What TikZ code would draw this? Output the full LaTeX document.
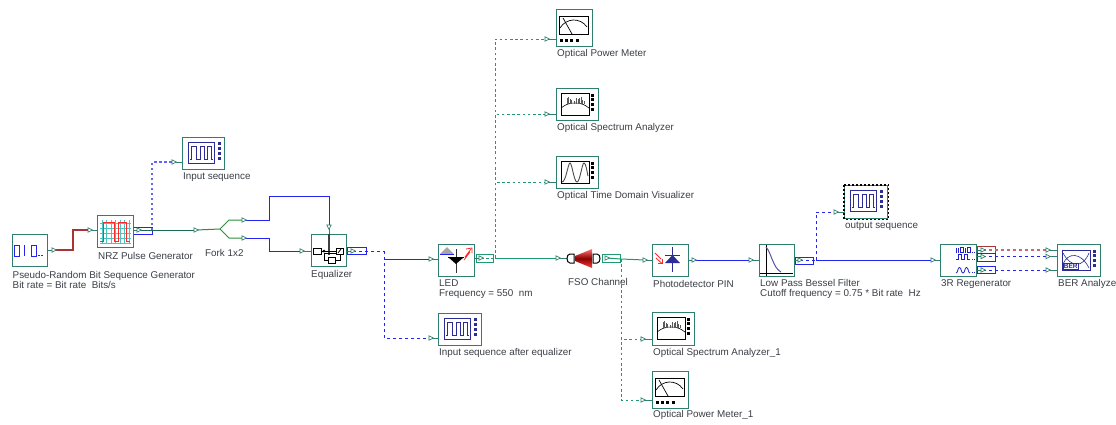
\documentclass[tikz,border=0pt]{standalone}
\usepackage{fontspec}
\setmainfont{Liberation Sans}
\usetikzlibrary{calc}
\definecolor{blockteal}{HTML}{2F7F6F}
\definecolor{wiregreen}{HTML}{1F9A70}
\definecolor{darkgreen}{HTML}{1B6B52}
\definecolor{forkgreen}{HTML}{2C8F3C}
\definecolor{wireblue}{HTML}{2424F0}
\definecolor{paleblue}{HTML}{6464F5}
\definecolor{wirered}{HTML}{A83434}
\definecolor{palered}{HTML}{C96A6A}
\definecolor{scopeblue}{HTML}{2C2C96}
\definecolor{labelgrey}{HTML}{3A3F46}
\tikzset{
  blockbox/.style={draw=blockteal,line width=1.4pt,fill=white,anchor=north west,inner sep=0pt},
  lbl/.style={anchor=west,inner sep=0pt,align=left,text=labelgrey,font=\fontsize{9.85}{10}\selectfont},
  optwire/.style={draw=wiregreen,line width=1pt},
  optdash/.style={draw=wiregreen,line width=1pt,dash pattern=on 2.6pt off 2.6pt},
  elwire/.style={draw=wireblue,line width=1pt},
  eldash/.style={draw=wireblue,line width=1pt,dash pattern=on 3pt off 3pt},
  stub/.style={draw=blockteal,line width=1pt},
  outbox/.style={draw=wireblue,line width=.9pt,fill=white},
  porttri/.pic={\draw[blockteal,fill=white,line width=.7pt] (-2,-2.2) -- (2.4,0) -- (-2,2.2) -- cycle;},
  dotsv/.pic={\foreach \q in {0,1,2,3} \fill[scopeblue] (-1.5,{\q*5-1.5}) rectangle (1.5,{\q*5+1.5});},
  blackdotsv/.pic={\foreach \q in {0,1,2,3} \fill[black] (-1.5,{\q*4.7-1.5}) rectangle (1.5,{\q*4.7+1.5});},
  scopeicon/.pic={
    \draw[scopeblue,line width=.9pt] (6,5) rectangle (32,26);
    \draw[scopeblue,line width=.8pt] (8,22) -- (9.5,22) -- (9.5,9) -- (14,9) -- (14,22) -- (18,22) -- (18,9) -- (22,9) -- (22,22) -- (25,22) -- (25,9) -- (29.5,9) -- (29.5,22) -- (31,22);
    \pic at (37,6.5) {dotsv};
  },
  metericon/.pic={
    \draw[black,line width=.9pt,fill=white] (3,7) rectangle (32,25);
    \draw[black,line width=.7pt] (4,19) .. controls (10,9) and (24,8) .. (31,18);
    \draw[black,line width=.7pt] (7,9) -- (16,25);
    \foreach \q in {5,10,15,21} \fill[black] (\q-1.5,29.5) rectangle (\q+1.5,32.5);
  },
  specicon/.pic={
    \draw[black,line width=.9pt] (5,5) rectangle (33,27);
    \draw[black,line width=.6pt] (5,20) .. controls (10,16) and (14,15) .. (19,15) .. controls (24,15) and (28,16) .. (33,20);
    \foreach \q/\h in {11/10,12.5/9,14/11,15.5/12,18/13,20/10,22/11,23.5/10,25/9,26.5/12,28/13}
      \draw[gray!70!black,line width=.8pt] (\q,\h) -- (\q,15.5);
    \pic at (36,7) {blackdotsv};
  },
  timeicon/.pic={
    \draw[black,line width=.9pt] (5,5) rectangle (33,27);
    \draw[black!70,line width=.9pt] (6,26) .. controls (10,26) and (12,7) .. (14,7) .. controls (16,7) and (18,26) .. (21,26) .. controls (24,26) and (26,7) .. (28,7) .. controls (30,7) and (31,16) .. (32,20);
    \pic at (36,7) {blackdotsv};
  }
}
\begin{document}
\begin{tikzpicture}[x=1pt,y=-1pt]
\useasboundingbox[fill=white] (0,0) rectangle (1116,424);

% ports and corners
\coordinate (prbsO) at (54,250);   \coordinate (nrzI) at (90,230);
\coordinate (nrzO) at (139,230);   \coordinate (nrzT) at (152,230);
\coordinate (scopeI) at (174,162); \coordinate (forkI) at (196,230);
\coordinate (forkC) at (220,229);
\coordinate (forkA) at (244,220);  \coordinate (forkB) at (244,238);
\coordinate (eqA) at (329,227);    \coordinate (eqB) at (302,251);
\coordinate (eqO) at (353,251);    \coordinate (eqT) at (384,251);
\coordinate (ledI) at (431,259);   \coordinate (eqscI) at (431,338);
\coordinate (ledO) at (481,258);   \coordinate (ledT) at (495,258);
\coordinate (fsoI) at (558,258);   \coordinate (fsoO) at (607,258);
\coordinate (fsoT) at (621,259);
\coordinate (opmI) at (547,39);    \coordinate (osaI) at (547,114);
\coordinate (otdI) at (547,182);
\coordinate (pinI) at (645,260);   \coordinate (pinO) at (694,260);
\coordinate (osbI) at (643,339);   \coordinate (opbI) at (643,400);
\coordinate (lpfI) at (751,260);   \coordinate (lpfO) at (800,260);
\coordinate (lpfT) at (816,260);   \coordinate (outI) at (836,212);
\coordinate (regI) at (933,260);
\coordinate (regA) at (983,250);   \coordinate (regB) at (983,256.5);
\coordinate (regC) at (983,270);
\coordinate (berA) at (1048,250);  \coordinate (berB) at (1048,256.5);
\coordinate (berC) at (1048,270);
\coordinate (jogA) at (73,250);    \coordinate (elA) at (269,220);
\coordinate (elB) at (269,238);    \coordinate (elC) at (269,196);

% output port boxes
\draw[outbox] (133,227) rectangle (152,234);
\draw[outbox] (347,247) rectangle (366,254);
\draw[draw=wiregreen,line width=.9pt,fill=white] (476,254) rectangle (493,262);
\draw[draw=wiregreen,line width=.9pt,fill=white] (602,254) rectangle (620,262);
\draw[outbox] (795,257) rectangle (813,264);
\draw[draw=wirered,line width=.9pt,fill=white] (977,246) rectangle (995,253);
\draw[outbox] (977,253) rectangle (995,261);
\draw[outbox] (977,266) rectangle (995,273);

% blocks
\node[blockbox,minimum width=35,minimum height=32] (prbs) at (12,234) {};
\node[blockbox,minimum width=36,minimum height=32] (nrz) at (97,215) {};
\node[blockbox,minimum width=42,minimum height=32] (inseq) at (182,137) {};
\node[blockbox,minimum width=35,minimum height=32] (eq) at (311,234) {};
\node[blockbox,minimum width=36,minimum height=32] (led) at (438,244) {};
\node[blockbox,minimum width=43,minimum height=32] (eqsc) at (438,313) {};
\node[blockbox,minimum width=36,minimum height=37] (opm) at (556,9) {};
\node[blockbox,minimum width=42,minimum height=32] (osa) at (556,88) {};
\node[blockbox,minimum width=42,minimum height=32] (otd) at (556,156) {};
\node[blockbox,minimum width=36,minimum height=32] (pin) at (652,244) {};
\node[blockbox,minimum width=35,minimum height=32] (lpf) at (759,244) {};
\node[blockbox,minimum width=42,minimum height=33] (osb) at (652,312) {};
\node[blockbox,minimum width=36,minimum height=37] (opb) at (652,371) {};
\node[blockbox,minimum width=43,minimum height=33] (outsc) at (844,185) {};
\node[blockbox,minimum width=36,minimum height=32] (reg) at (940,244) {};
\node[blockbox,minimum width=43,minimum height=32] (ber) at (1057,244) {};
\draw[black,line width=1.3pt,dash pattern=on 2pt off 2pt] (outsc.north west) rectangle (outsc.south east);

% connectors
\draw[stub] (prbs.east |- prbsO) -- (prbsO);
\draw[draw=wirered,line width=1.3pt] (prbsO) -- (jogA) |- (nrzI);
\draw[stub] (nrzI) -- (nrz.west |- nrzI);
\draw[stub] (nrz.east |- nrzO) -- (nrzO);
\draw[draw=paleblue,line width=1.2pt,dash pattern=on 2.5pt off 2.5pt] (nrzT) |- (scopeI);
\draw[stub] (scopeI) -- (inseq.west |- scopeI);
\draw[draw=darkgreen,line width=1pt] (nrzO) -- (forkI);
\draw[draw=forkgreen,line width=1pt] (forkI) -- (forkC) -- (229,220) -- (forkA);
\draw[draw=forkgreen,line width=1pt] (forkC) -- (229,238) -- (forkB);
\draw[elwire] (forkA) -- (elA) -- (elC) -| (eqA);
\draw[elwire] (forkB) -- (elB) |- (eqB);
\draw[stub] (eqA) -- (eq.north -| eqA);
\draw[stub] (eqB) -- (eq.west |- eqB);
\draw[stub] (eq.east |- eqO) -- (eqO);
\draw[eldash] (eqO) -- (eqT);
\draw[eldash] (eqT) |- (eqscI);
\draw[elwire] (eqT |- ledI) -- (ledI);
\draw[stub] (ledI) -- (led.west |- ledI);
\draw[stub] (eqscI) -- (eqsc.west |- eqscI);
\draw[stub] (led.east |- ledO) -- (ledO);
\draw[optdash] (ledO) -- (ledT);
\draw[optwire] (ledT) -- (fsoI);
\draw[optdash] (ledT) |- (opmI);
\draw[optdash] (ledT) |- (osaI);
\draw[optdash] (ledT) |- (otdI);
\draw[stub] (opmI) -- (opm.west |- opmI);
\draw[stub] (osaI) -- (osa.west |- osaI);
\draw[stub] (otdI) -- (otd.west |- otdI);
\draw[stub] (fsoI) -- (567,258);
\draw[optwire] (fsoO) -- (fsoT) -- (pinI);
\draw[optdash] (fsoT) |- (osbI);
\draw[optdash] (fsoT) |- (opbI);
\draw[stub] (osbI) -- (osb.west |- osbI);
\draw[stub] (opbI) -- (opb.west |- opbI);
\draw[stub] (pinI) -- (pin.west |- pinI);
\draw[stub] (pin.east |- pinO) -- (pinO);
\draw[elwire] (pinO) -- (lpfI);
\draw[stub] (lpfI) -- (lpf.west |- lpfI);
\draw[stub] (lpf.east |- lpfO) -- (lpfO);
\draw[eldash] (lpfO) -- (lpfT);
\draw[elwire] (lpfT) -- (regI);
\draw[eldash] (lpfT) |- (outI);
\draw[stub] (outI) -- (outsc.west |- outI);
\draw[stub] (regI) -- (reg.west |- regI);
\draw[stub] (reg.east |- regA) -- (regA);
\draw[stub] (reg.east |- regB) -- (regB);
\draw[stub] (reg.east |- regC) -- (regC);
\draw[draw=palered,line width=1.4pt,dash pattern=on 3pt off 3pt] (regA) -- (berA);
\draw[eldash] (regB) -- (berB);
\draw[eldash] (regC) -- (berC);
\draw[stub] (berA) -- (ber.west |- berA);
\draw[stub] (berB) -- (ber.west |- berB);
\draw[stub] (berC) -- (ber.west |- berC);

% port triangles
\foreach \p in {prbsO,nrzI,nrzO,scopeI,forkI,forkA,forkB,eqB,eqO,ledI,eqscI,ledO,fsoI,fsoO,opmI,osaI,otdI,pinI,pinO,osbI,opbI,lpfI,lpfO,outI,regI,regA,regB,regC,berA,berB,berC}
  \pic at (\p) {porttri};
\draw[blockteal,fill=white,line width=.7pt] ($(eqA)+(-2.2,-2)$) -- ($(eqA)+(2.2,-2)$) -- ($(eqA)+(0,2.4)$) -- cycle;

% FSO channel
\draw[black,line width=1pt,fill=white] (574,254) -- (570,254) .. controls (566,254) and (566,263) .. (570,263) -- (574,263) -- cycle;
\shade[top color=red!55!white,bottom color=red!75!white,middle color=red!55!black] (575,256) -- (592,249) -- (592,268) -- (575,261) -- cycle;
\draw[black,line width=1pt,fill=white] (593,254) -- (597,254) .. controls (601,254) and (601,263) .. (597,263) -- (593,263) -- cycle;

% PRBS icon
\begin{scope}[shift={(prbs.north west)},wireblue,line width=1pt]
  \draw (2,11) rectangle (7,22);
  \draw (12,11) -- (12,22);
  \draw (19,11) rectangle (24,22);
  \fill (26,20.5) rectangle (27.5,22);
  \fill (29,20.5) rectangle (30.5,22);
\end{scope}
% NRZ icon
\begin{scope}[shift={(nrz.north west)}]
  \foreach \q in {5,9.5,14,18.5,23,27.5,32}
    \draw[cyan!60!green!70!white,line width=.9pt] (\q,5) -- (\q,29);
  \foreach \q in {8,13,18,23,28}
    \draw[cyan!60!green!70!white,line width=.9pt] (3,\q) -- (34,\q);
  \draw[red!85!white,line width=.9pt] (3,26) -- (6.3,26) -- (6.3,7) -- (17.7,7) -- (17.7,26) -- (21,26) -- (21,7) -- (29.7,7) -- (29.7,26) -- (33,26);
\end{scope}
% Equalizer icon
\begin{scope}[shift={(eq.north west)},line width=.8pt]
  \draw[black!75,line width=1.2pt] (18,0) -- (18,21);
  \draw (2,14) rectangle (10,20);
  \draw (10,17) -- (25,17);
  \fill (13,17) circle (1.5);
  \draw (13,19) rectangle (29,26);
  \draw[fill=white] (17,23) rectangle (24,29);
  \draw[fill=white] (25,14) rectangle (32,20);
  \draw (27,19) -- (30,15);
\end{scope}
% LED icon
\begin{scope}[shift={(led.north west)}]
  \fill[gray!70] (2,10) -- (9,3) -- (16,10) -- cycle;
  \draw[wireblue,line width=.8pt] (2,10) -- (16,10);
  \draw[black!80,line width=1pt] (18,5) -- (18,29);
  \fill[black] (10,13) -- (26,13) -- (18,20) -- cycle;
  \draw[black,line width=1pt] (10,13) -- (26,13);
  \draw[red!85!white,line width=.8pt] (27,13) -- (33,5) (26,16) -- (32,8);
  \draw[red!85!white,line width=.8pt] (28,5) -- (34,4) -- (34,9);
\end{scope}
% Photodetector icon
\begin{scope}[shift={(pin.north west)}]
  \draw[scopeblue,line width=1pt] (20,3) -- (20,28);
  \fill[scopeblue] (13,19) -- (28,19) -- (20.5,11) -- cycle;
  \draw[scopeblue,line width=1pt] (13,11) -- (28,11);
  \draw[red!85!white,line width=.8pt] (3,9) -- (9,15) (4,14) -- (10,19.5);
  \draw[red!85!white,line width=.8pt] (10,15) -- (10,19.5) -- (6,19.5);
\end{scope}
% Filter icon
\begin{scope}[shift={(lpf.north west)}]
  \draw[black,line width=1pt] (7,1) -- (7,32);
  \draw[black,line width=1pt] (1,29) -- (34,29);
  \draw[scopeblue!80,line width=1pt] (7,3) .. controls (12,8) and (14,24) .. (22,28);
\end{scope}
% Regenerator icon
\begin{scope}[shift={(reg.north west)},wireblue!85!black,line width=.8pt]
  \draw (16,3.5) -- (16,8.5) (18,3.5) -- (18,8.5);
  \draw (20,3.5) rectangle (23,8.5);
  \draw (25,3.5) -- (25,8.5);
  \draw (27,3.5) rectangle (30,8.5);
  \fill (31.5,7.5) rectangle (32.5,8.5); \fill (33.5,7.5) rectangle (34.5,8.5);
  \draw (16,15.5) -- (18,15.5) -- (18,10) -- (21,10) -- (21,15.5) -- (24,15.5) -- (24,10) -- (27,10) -- (27,15.5) -- (30,15.5);
  \fill (31.5,14.5) rectangle (32.5,15.5); \fill (33.5,14.5) rectangle (34.5,15.5);
  \draw (16,29) .. controls (18,29) and (17.5,23.5) .. (19.5,23.5) .. controls (21.5,23.5) and (21,29) .. (23,29) .. controls (25,29) and (24.5,23.5) .. (26.5,23.5) .. controls (28.5,23.5) and (28,29) .. (30,29);
  \fill (31.5,28) rectangle (32.5,29); \fill (33.5,28) rectangle (34.5,29);
\end{scope}
% BER icon
\begin{scope}[shift={(ber.north west)}]
  \draw[scopeblue,line width=1pt] (5,6) rectangle (33,26);
  \draw[scopeblue,line width=.6pt] (6,20) .. controls (11,8) and (24,8) .. (32,24);
  \draw[scopeblue,line width=.6pt] (6,9) .. controls (14,24) and (26,24) .. (32,9);
  \node[draw=scopeblue,fill=white,inner sep=.6pt,text=scopeblue,font=\fontsize{6.5}{7}\selectfont\bfseries,anchor=south west] (bertxt) at (6,25) {BER};
  \foreach \q in {0,1,2,3} \fill[scopeblue] (35.5,{7+\q*4.7-1.5}) rectangle (38.5,{7+\q*4.7+1.5});
\end{scope}
% instrument icons
\pic[shift={(inseq.north west)}] {scopeicon};
\pic[shift={(eqsc.north west)}] {scopeicon};
\pic[shift={(outsc.north west)}] {scopeicon};
\pic[shift={(opm.north west)}] {metericon};
\pic[shift={(opb.north west)}] {metericon};
\pic[shift={(osa.north west)}] {specicon};
\pic[shift={(osb.north west)}] {specicon};
\pic[shift={(otd.north west)}] {timeicon};

% labels
\node[lbl] (lprbs) at (12.5,280) {Pseudo-Random Bit Sequence Generator\\Bit rate = Bit rate~ Bits/s};
\node[lbl] (lnrz) at (98,255.5) {NRZ Pulse Generator};
\node[lbl] (lfork) at (205,253) {Fork 1x2};
\node[lbl] (lin) at (183,177) {Input sequence};
\node[lbl] (leq) at (311,275) {Equalizer};
\node[lbl] (lled) at (439,289) {LED\\Frequency = 550~ nm};
\node[lbl] (leqsc) at (439,353) {Input sequence after equalizer};
\node[lbl] (lopm) at (557,54) {Optical Power Meter};
\node[lbl] (losa) at (557,128) {Optical Spectrum Analyzer};
\node[lbl] (lotd) at (557,196) {Optical Time Domain Visualizer};
\node[lbl] (lfso) at (568,282) {FSO Channel};
\node[lbl] (lpin) at (653,284) {Photodetector PIN};
\node[lbl] (llpf) at (760,289) {Low Pass Bessel Filter\\Cutoff frequency = 0.75 * Bit rate~ Hz};
\node[lbl] (lout) at (845,226) {output sequence};
\node[lbl] (losb) at (653,353) {Optical Spectrum Analyzer\_1};
\node[lbl] (lopb) at (653,415) {Optical Power Meter\_1};
\node[lbl] (lreg) at (941,284) {3R Regenerator};
\node[lbl] (lber) at (1058,284) {BER Analyze};
\end{tikzpicture}
\end{document}
